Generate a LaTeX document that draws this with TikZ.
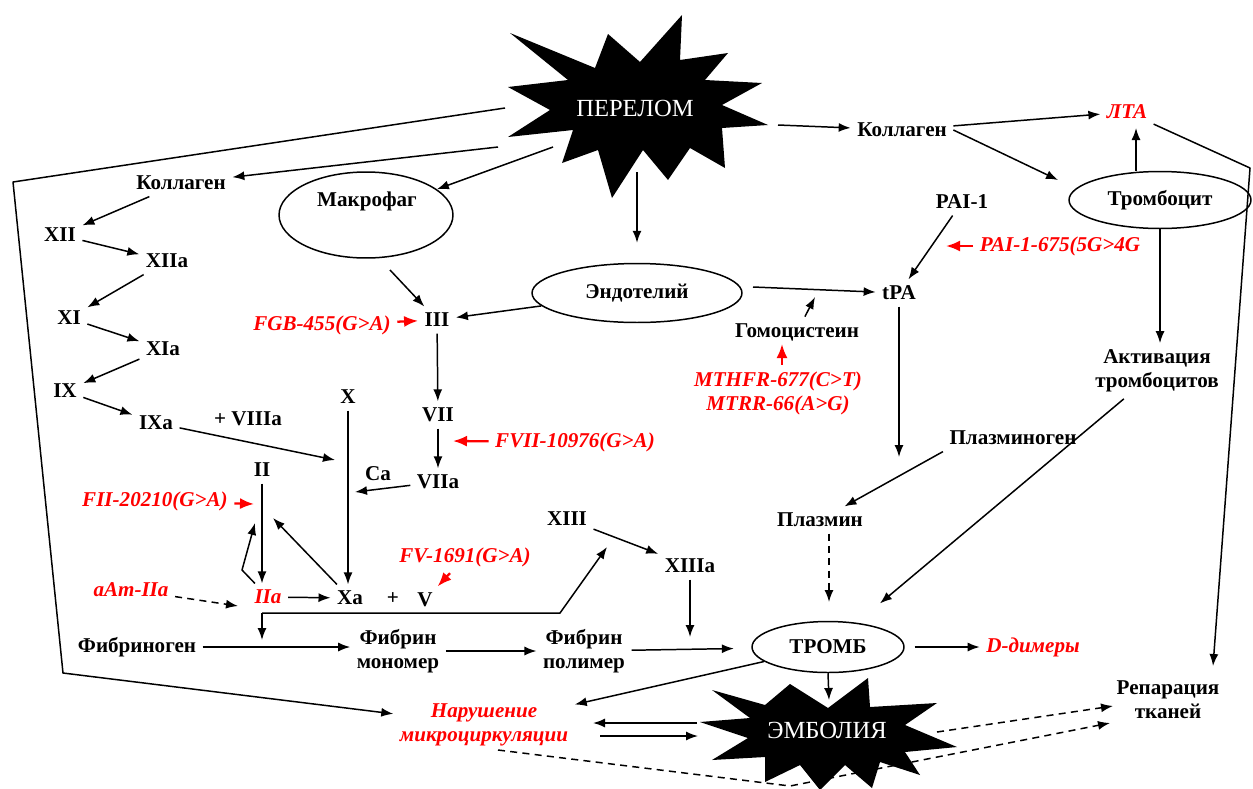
\documentclass[tikz,border=0pt]{standalone}
\usepackage{fontspec}
\setmainfont{Liberation Serif}
\usetikzlibrary{arrows.meta,shapes.geometric}
\begin{document}
\begin{tikzpicture}[x=0.02cm, y=-0.02cm, line join=round, line width=0.85pt,
		>={Latex[length=2.4mm,width=1.8mm]},
		font=\fontsize{12}{13.7}\selectfont\bfseries,
		gene/.style={text=red, font=\fontsize{12}{13.7}\selectfont\bfseries\itshape},
		oval/.style={draw, ellipse, inner sep=0pt},
		boom/.style={text=white, font=\fontsize{14}{16}\selectfont},
		redarr/.style={-{Latex[length=2.8mm,width=2.2mm]}, draw=red, line width=1.3pt},
		broken/.style={dash pattern=on 4pt off 3pt}]
	\useasboundingbox (0,0) rectangle (1253,788);
	% stars
	\fill (510,33)--(595,68)--(608,34)--(640,62)--(682,15)--(680,60)--(728,53)--(705,80)--(762,83)--(722,105)--(768,125)--(722,128)--(725,168)--(690,148)--(668,180)--(643,150)--(612,198)--(598,150)--(562,163)--(573,130)--(508,137)--(550,110)--(508,87)--(568,80)--cycle;
	\fill (712,690)--(765,705)--(790,684)--(828,708)--(868,678)--(870,707)--(937,703)--(905,725)--(957,747)--(905,752)--(920,775)--(880,762)--(872,788)--(845,765)--(820,790)--(800,765)--(765,782)--(765,757)--(712,760)--(748,738)--(700,722)--(750,718)--cycle;
	\node[boom] (perelom) at (635,108) {ПЕРЕЛОМ};
	\node[boom] (embolia) at (827,730) {ЭМБОЛИЯ};
	% ovals
	\node[oval, minimum width=3.48cm, minimum height=1.72cm] (makrofag) at (366,215) {};
	\node (makrofagtxt) at (367,201) {Макрофаг};
	\node[oval, minimum width=4.2cm, minimum height=1.18cm] (endot) at (637,293) {Эндотелий};
	\node[oval, minimum width=3.64cm, minimum height=1.14cm] (trombocit) at (1160,200) {Тромбоцит};
	\node[oval, minimum width=3.04cm, minimum height=1.02cm] (tromb) at (828,647) {ТРОМБ};
	% factors
	\node (kollL) at (181,183) {Коллаген};
	\node (xii) at (60,235) {XII};
	\node (xiia) at (167,261) {XIIa};
	\node (xi) at (69,318) {XI};
	\node (xia) at (163,349) {XIa};
	\node (ix) at (65,391) {IX};
	\node (ixa) at (156,423) {IXa};
	\node (viii) at (248,419) {+ VIIIa};
	\node (x) at (348,397) {X};
	\node (ii) at (262,470) {II};
	\node (ca) at (378,474) {Ca};
	\node (iii) at (437,320) {III};
	\node (vii) at (438,415) {VII};
	\node (viia) at (438,482) {VIIa};
	\node[gene] (iia) at (268,597) {IIa};
	\node (xa) at (350,598) {Xa};
	\node (plus) at (393,599) {+};
	\node (v) at (425,600) {V};
	\node (xiii) at (567,519) {XIII};
	\node (xiiia) at (690,566) {XIIIa};
	\node (fibrinogen) at (137,647) {Фибриноген};
	\node[align=center] (monomer) at (398,651) {Фибрин\\мономер};
	\node[align=center] (polymer) at (584,651) {Фибрин\\полимер};
	\node[gene] (ddimer) at (1033,647) {D-димеры};
	\node[gene, align=center] (narush) at (484,725) {Нарушение\\микроциркуляции};
	\node[align=center] (repar) at (1168,700) {Репарация\\тканей};
	\node (plasmin) at (820,520) {Плазмин};
	\node (plasminogen) at (1013,438) {Плазминоген};
	\node (tpa) at (899,293) {tPA};
	\node (pai) at (962,202) {PAI-1};
	\node (gomo) at (797,332) {Гомоцистеин};
	\node (kollR) at (902,130) {Коллаген};
	\node[gene] (lta) at (1127,112) {ЛТА};
	\node[align=center] (aktiv) at (1157,371) {Активация\\тромбоцитов};
	% genes
	\node[gene] (fgb) at (322,325) {FGB-455(G>A)};
	\node[gene] (fii) at (155,501) {FII-20210(G>A)};
	\node[gene] (aam) at (131,590) {aAm-IIa};
	\node[gene] (fv) at (465,557) {FV-1691(G>A)};
	\node[gene] (fvii) at (575,442) {FVII-10976(G>A)};
	\node[gene, align=center] (mthfr) at (778,393) {MTHFR-677(C>T)\\MTRR-66(A>G)};
	\node[gene] (paig) at (1060,246) {PAI-1-675(5G>4G};
	% free ends
	\coordinate (p1) at (505,108); \coordinate (p2) at (498,147); \coordinate (p3) at (553,147);
	\coordinate (p4) at (637,172); \coordinate (p5) at (778,125);
	\coordinate (bendnw) at (13,182); \coordinate (bendsw) at (63,673);
	\coordinate (xin) at (335,460); \coordinate (xca) at (355,492); \coordinate (mkout) at (390,270);
	\coordinate (iiin) at (273,518); \coordinate (kink) at (242,570); \coordinate (iiin2) at (255,523);
	\coordinate (fiitip) at (254,504); \coordinate (aamtip) at (238,606); \coordinate (fviitip) at (453,441);
	\coordinate (brl) at (262,613); \coordinate (brr) at (560,613); \coordinate (xiiiin) at (607,547);
	\coordinate (fibin) at (262,640); \coordinate (xiiiadown) at (690,637);
	\coordinate (eml1) at (697,723); \coordinate (nrr1) at (593,723);
	\coordinate (nrr2) at (600,736); \coordinate (eml2) at (698,736);
	\coordinate (embtop) at (829,700); \coordinate (plin) at (829,602); \coordinate (tpadown) at (899,457);
	\coordinate (trin) at (1058,180); \coordinate (ltain) at (1136,128);
	\coordinate (rbend) at (1250,168); \coordinate (repin) at (1213,666);
	\coordinate (paiarr) at (946,246); \coordinate (gomin) at (815,297); \coordinate (mtin) at (782,344);
	\coordinate (nrout) at (498,750); \coordinate (dbend) at (790,786); \coordinate (repin2) at (1110,723);
	\coordinate (emout) at (937,732); \coordinate (repin1) at (1113,706);
	\coordinate (endout) at (753,287);
	% from the fracture
	\draw[->] (p1)--(bendnw)--(bendsw)--(narush);
	\draw[->] (p2)--(kollL);
	\draw[->] (p3)--(makrofag);
	\draw[->, shorten >=0.4cm] (p4)--(endot);
	\draw[->] (p5)--(kollR);
	% cascade
	\draw[->] (kollL)--(xii);
	\draw[->] (xii)--(xiia);
	\draw[->] (xiia)--(xi);
	\draw[->] (xi)--(xia);
	\draw[->] (xia)--(ix);
	\draw[->] (ix)--(ixa);
	\draw[->] (ixa)--(xin);
	\draw[->] (x)--(x |- xa.north);
	\draw[->] (viia)--(xca);
	\draw[->] (mkout)--(iii);
	\draw[->] (endot)--(iii);
	\draw[->] (iii)--(vii);
	\draw[->] (vii)--(viia);
	\draw[->] (ii)--(ii |- iia.north);
	\draw[->] (iia)--(xa);
	\draw[->] (xa)--(iiin);
	\draw[->] (iia)--(kink)--(iiin2);
	\draw[->, broken] (aam)--(aamtip);
	\draw[->] (brl)--(brr)--(xiiiin);
	\draw[->] (brl)--(fibin);
	\draw[->] (fibrinogen)--(monomer.west |- fibrinogen);
	\draw[->] (monomer)--(polymer);
	\draw[->, shorten >=0.35cm] (polymer)--(tromb);
	\draw[->] (xiii)--(xiiia);
	\draw[->] (xiiia)--(xiiiadown);
	\draw[redarr] (fgb)--(iii);
	\draw[redarr] (fii)--(fiitip);
	\draw[redarr] (fv)--(v);
	\draw[redarr] (fvii)--(fviitip);
	% clot and outcomes
	\draw[->] (tromb)--(narush);
	\draw[->] (eml1)--(nrr1);
	\draw[->] (nrr2)--(eml2);
	\draw[->] (tromb.south)--(embtop);
	\draw[->, shorten <=0.2cm] (tromb)--(ddimer);
	\draw[->, broken] (plasmin.south -| plin)--(plin);
	\draw[->] (tpa)--(tpadown);
	\draw[->] (plasminogen.south west)--(plasmin);
	\draw[->, shorten >=0.6cm] (aktiv)--(tromb);
	\draw[->] (trombocit)--(trombocit |- aktiv.north);
	\draw[->] (ltain |- trombocit.north)--(ltain);
	\draw[->] (kollR)--(lta);
	\draw[->] (kollR.east)--(trin);
	\draw[->] (lta)--(rbend)--(repin);
	\draw[->] (pai)--(tpa);
	\draw[redarr] (paig)--(paiarr);
	\draw[->] (endout)--(tpa);
	\draw[->] (gomo)--(gomin);
	\draw[redarr] (mtin |- mthfr.north)--(mtin);
	\draw[->, broken] (nrout)--(dbend)--(repin2);
	\draw[->, broken] (emout)--(repin1);
\end{tikzpicture}
\end{document}
